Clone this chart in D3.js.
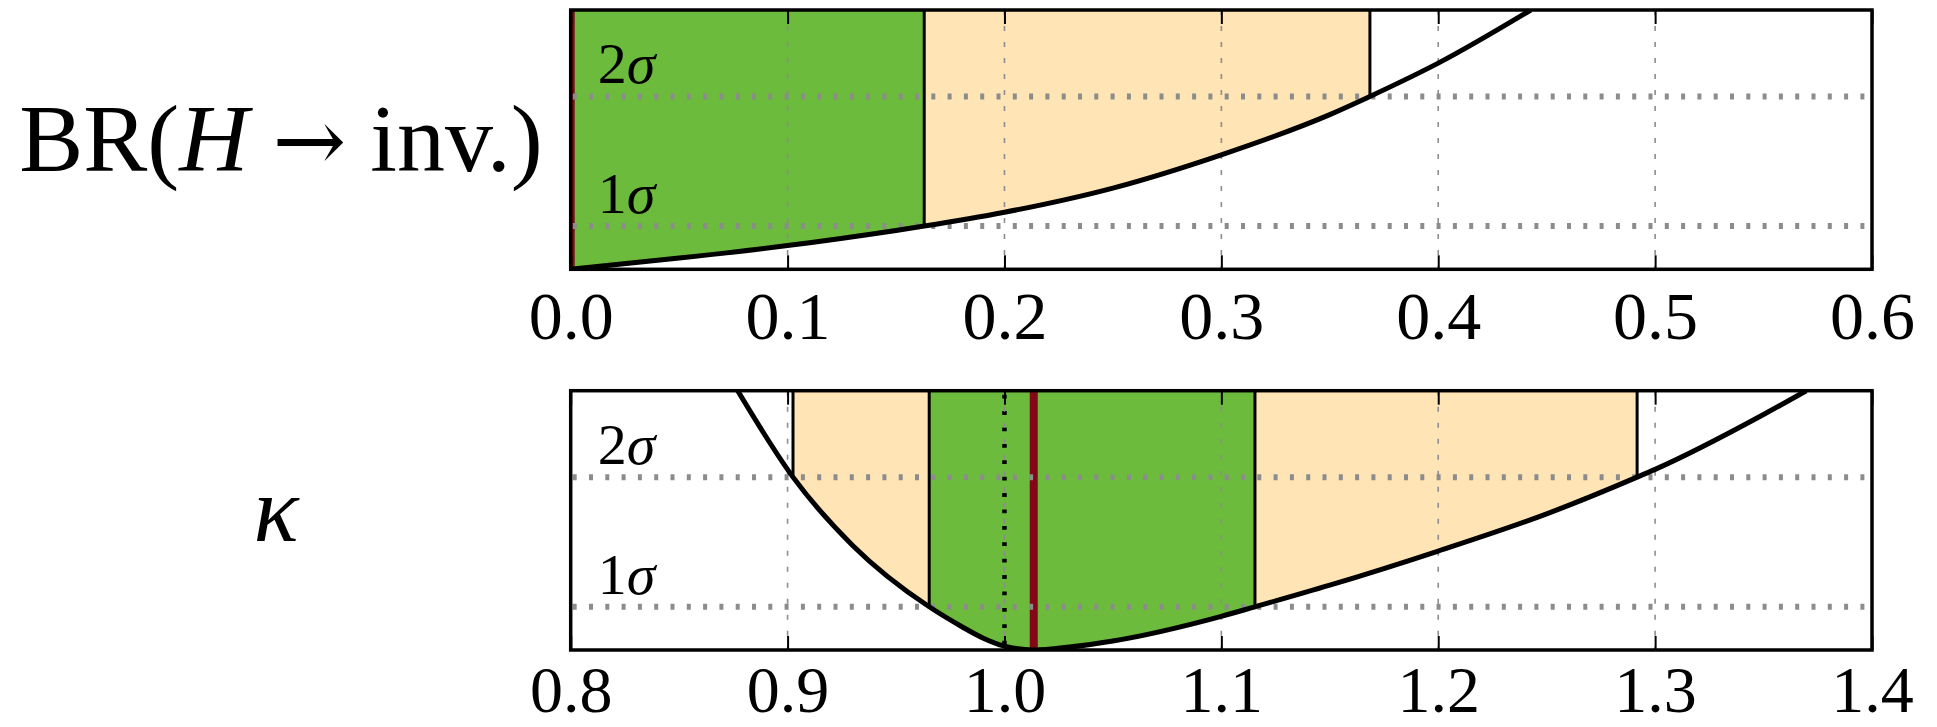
<!DOCTYPE html>
<html>
<head>
<meta charset="utf-8">
<script src="https://cdn.jsdelivr.net/npm/d3@7"></script>
<style>
  html, body { margin: 0; padding: 0; background: #fff; }
  svg { display: block; }
  text { font-family: "Liberation Serif", "DejaVu Serif", serif; fill: #000; }
</style>
</head>
<body>
<svg id="chart" width="1937" height="727"></svg>
<script>
// ---------------- data ----------------
// Top panel: BR(H -> inv.) vs Delta chi^2
const brX   = [0, 0.05, 0.10, 0.15, 0.163, 0.20, 0.25, 0.30, 0.35, 0.3685, 0.40, 0.4427];
const brChi = [0, 0.26, 0.55, 0.90, 1.00, 1.32, 1.88, 2.65, 3.58, 4.00, 4.77, 6.00];
const brBest = 0.0;
const brOne = [0.0, 0.163];     // 1 sigma interval
const brTwo = [0.0, 0.3685];    // 2 sigma interval
const brTicks = [0.0, 0.1, 0.2, 0.3, 0.4, 0.5, 0.6];

// Bottom panel: kappa vs Delta chi^2
const kX   = [0.877, 0.9025, 0.93, 0.9653, 0.98, 0.99, 1.00, 1.0135, 1.03, 1.05, 1.10, 1.1155, 1.15, 1.20, 1.25, 1.2917, 1.30, 1.35, 1.3697];
const kChi = [6.00, 4.00, 2.42, 1.00, 0.55, 0.28, 0.09, 0.00, 0.07, 0.21, 0.78, 1.00, 1.50, 2.29, 3.15, 4.00, 4.18, 5.45, 6.00];
const kBest = 1.0135;
const kSM = 1.0;
const kOne = [0.9653, 1.1155];
const kTwo = [0.9025, 1.2917];
const kTicks = [0.8, 0.9, 1.0, 1.1, 1.2, 1.3, 1.4];

const sigmaLevels = [1, 4];
const sigmaLabels = ["1", "2"];

// ---------------- layout ----------------
const svg = d3.select("#chart");
const X0 = 570.7, X1 = 1872;
const GREEN = "#6cbb3c", ORANGE = "#ffe4b5", RED = "#820818", GRID = "#8c8c8c";

function panel(opts) {
  const { id, xDomain, top, bottom, xs, chi, best, one, two, ticks, sm, label } = opts;
  const x = d3.scaleLinear().domain(xDomain).range([X0, X1]);
  const y = d3.scaleLinear().domain([0, 6]).range([bottom, top]);
  const g = svg.append("g");
  const pts = xs.map((d, i) => [d, chi[i]]);

  const clipAll = "clip-" + id;
  svg.append("clipPath").attr("id", clipAll)
    .append("rect").attr("x", X0).attr("y", top).attr("width", X1 - X0).attr("height", bottom - top);

  const area = d3.area().x(d => x(d[0])).y0(d => y(d[1])).y1(y(6)).curve(d3.curveMonotoneX);
  const line = d3.line().x(d => x(d[0])).y(d => y(d[1])).curve(d3.curveMonotoneX);

  // bands: 2 sigma (orange) then 1 sigma (green)
  [[two, ORANGE, "o"], [one, GREEN, "g"]].forEach(([iv, col, k]) => {
    const cid = "clip-" + id + "-" + k;
    svg.append("clipPath").attr("id", cid)
      .append("rect").attr("x", x(iv[0])).attr("y", top)
      .attr("width", x(iv[1]) - x(iv[0])).attr("height", bottom - top);
    g.append("path").datum(pts).attr("d", area).attr("fill", col)
      .attr("clip-path", `url(#${cid})`);
  });

  const inner = g.append("g").attr("clip-path", `url(#${clipAll})`);

  // best fit red line
  inner.append("line").attr("x1", x(best)).attr("x2", x(best))
    .attr("y1", top).attr("y2", bottom).attr("stroke", RED).attr("stroke-width", 8);

  // SM dotted line
  if (sm !== undefined) {
    inner.append("line").attr("x1", x(sm)).attr("x2", x(sm))
      .attr("y1", top + 4).attr("y2", bottom).attr("stroke", "#000")
      .attr("stroke-width", 4.5).attr("stroke-dasharray", "3.8,12.6");
  }

  // vertical grid
  inner.selectAll(".vg").data(ticks).join("line")
    .attr("x1", d => x(d)).attr("x2", d => x(d))
    .attr("y1", top).attr("y2", bottom)
    .attr("stroke", GRID).attr("stroke-width", 1.6).attr("stroke-dasharray", "5,11");

  // horizontal sigma lines
  inner.selectAll(".hg").data(sigmaLevels).join("line")
    .attr("x1", X0 + 2).attr("x2", X1)
    .attr("y1", d => y(d)).attr("y2", d => y(d))
    .attr("stroke", GRID).attr("stroke-width", 6).attr("stroke-dasharray", "4,12.3");

  // band edges
  const edges = [];
  [one, two].forEach((iv, k) => {
    iv.forEach(v => { if (v !== best) edges.push([v, sigmaLevels[k]]); });
  });
  inner.selectAll(".edge").data(edges).join("line")
    .attr("x1", d => x(d[0])).attr("x2", d => x(d[0]))
    .attr("y1", top).attr("y2", d => y(d[1]))
    .attr("stroke", "#000").attr("stroke-width", 3);

  // curve
  inner.append("path").datum(pts).attr("d", line)
    .attr("fill", "none").attr("stroke", "#000").attr("stroke-width", 5)
    .attr("stroke-linejoin", "round");

  // sigma labels
  g.selectAll(".sl").data(sigmaLevels).join("text")
    .attr("x", X0 + 27).attr("y", d => y(d) - 13)
    .attr("font-size", 58)
    .each(function(d, i) {
      const t = d3.select(this);
      t.append("tspan").text(sigmaLabels[i]);
      t.append("tspan").attr("font-style", "italic").text("σ");
    });

  // axes: ticks inside, top and bottom
  const axB = g.append("g").attr("transform", `translate(0,${bottom})`)
    .call(d3.axisBottom(x).tickValues(ticks).tickSize(-14).tickFormat(d3.format(".1f")));
  axB.select(".domain").remove();
  axB.selectAll(".tick line").attr("stroke", "#000").attr("stroke-width", 2);
  axB.selectAll(".tick text").attr("y", opts.labelOff).attr("dy", 0)
    .attr("font-size", opts.tickSize).attr("font-family", "Liberation Serif, serif").attr("fill", "#000");

  const axT = g.append("g").attr("transform", `translate(0,${top})`)
    .call(d3.axisTop(x).tickValues(ticks).tickSize(-14).tickFormat(""));
  axT.select(".domain").remove();
  axT.selectAll(".tick line").attr("stroke", "#000").attr("stroke-width", 2);

  // frame
  g.append("rect").attr("x", X0).attr("y", top).attr("width", X1 - X0).attr("height", bottom - top)
    .attr("fill", "none").attr("stroke", "#000").attr("stroke-width", 3.5);

  // y label
  const lab = g.append("text").attr("text-anchor", "middle").attr("x", opts.labelX)
    .attr("y", opts.labelY).attr("font-size", opts.labelSize);
  label(lab);
}

panel({
  id: "br", xDomain: [0, 0.6], top: 10, bottom: 269.3,
  xs: brX, chi: brChi, best: brBest, one: brOne, two: brTwo, ticks: brTicks,
  labelX: 281, labelY: 171, labelSize: 96, labelOff: 70, tickSize: 68,
  label: t => {
    t.append("tspan").text("BR(");
    t.append("tspan").attr("font-style", "italic").text("H");
    t.append("tspan").text(" ");
    t.append("tspan").attr("font-family", "DejaVu Serif").attr("font-size", 88).text("→");
    t.append("tspan").text(" inv.)");
  }
});

panel({
  id: "k", xDomain: [0.8, 1.4], top: 390.7, bottom: 650,
  xs: kX, chi: kChi, best: kBest, one: kOne, two: kTwo, ticks: kTicks, sm: kSM,
  labelX: 276, labelY: 541, labelSize: 94, labelOff: 62, tickSize: 66,
  label: t => { t.append("tspan").attr("font-style", "italic").text("κ"); }
});
</script>
</body>
</html>
